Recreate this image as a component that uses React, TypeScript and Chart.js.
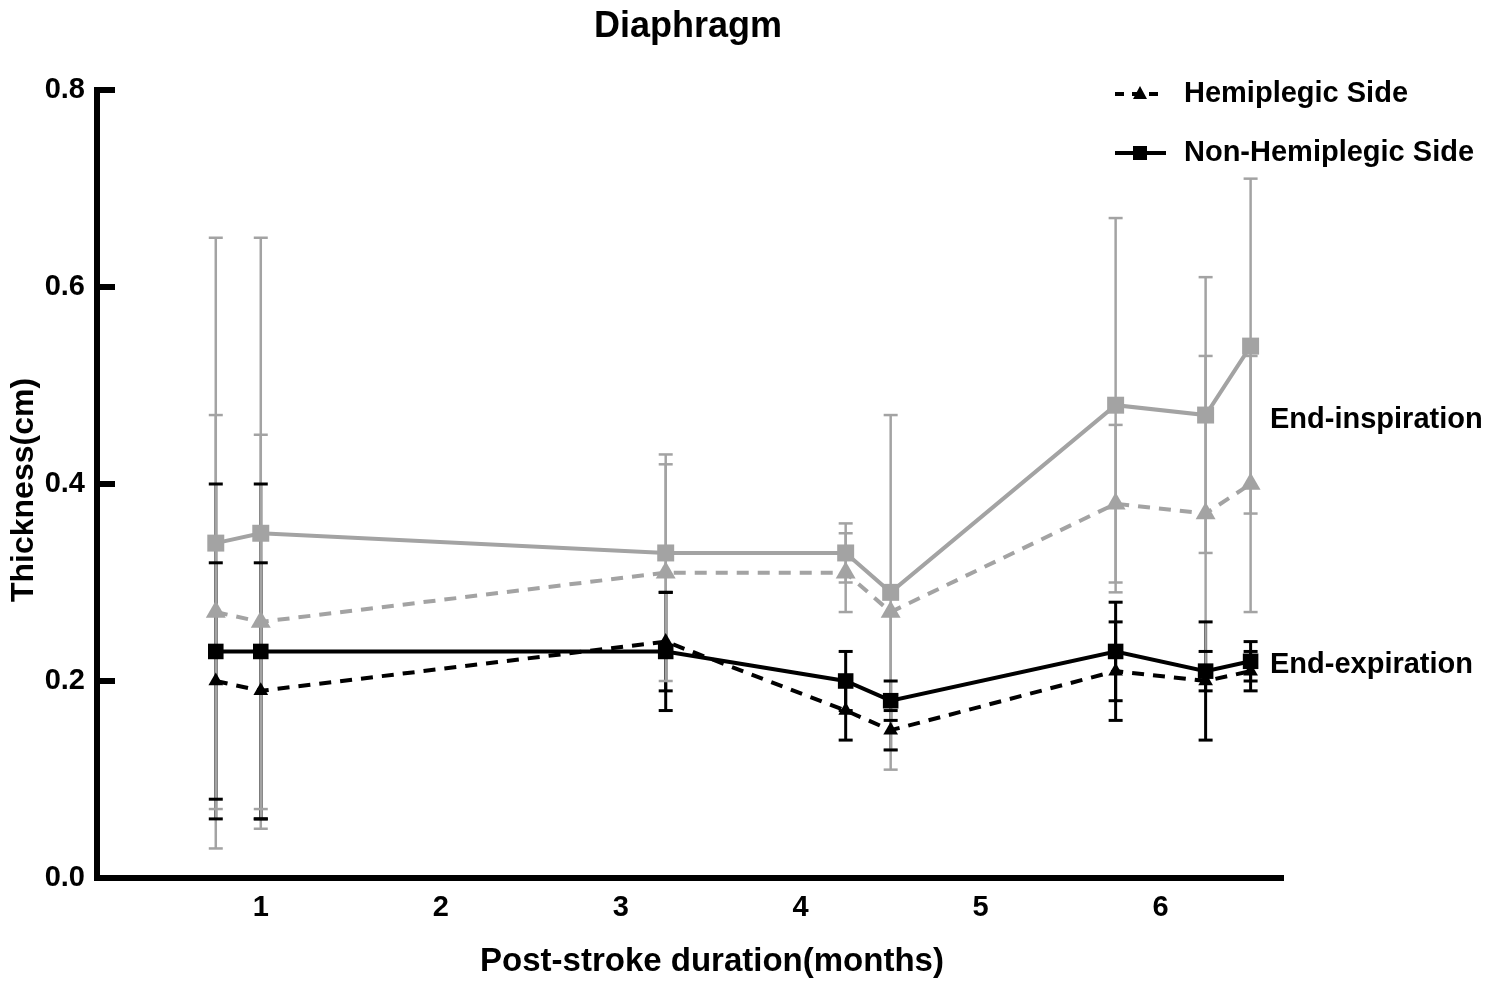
import React, { useEffect, useRef } from "react";
import { Chart, registerables } from "chart.js";

Chart.register(...registerables);

// post-stroke duration (months) of each measurement
const months = [0.75, 1, 3.25, 4.25, 4.5, 5.75, 6.25, 6.5];
const xTickValues = [1, 2, 3, 4, 5, 6];
const yTickValues = [0, 0.2, 0.4, 0.6, 0.8];

// end-inspiration, non-hemiplegic side (grey solid, squares)
const inspNonHemi = [0.34, 0.35, 0.33, 0.33, 0.29, 0.48, 0.47, 0.54];
const inspNonHemiLo = [0.03, 0.05, 0.23, 0.3, 0.11, 0.29, 0.33, 0.37];
const inspNonHemiHi = [0.65, 0.65, 0.43, 0.36, 0.47, 0.67, 0.61, 0.71];

// end-inspiration, hemiplegic side (grey dashed, triangles)
const inspHemi = [0.27, 0.26, 0.31, 0.31, 0.27, 0.38, 0.37, 0.4];
const inspHemiLo = [0.07, 0.07, 0.2, 0.27, 0.13, 0.3, 0.21, 0.27];
const inspHemiHi = [0.47, 0.45, 0.42, 0.35, null, 0.46, 0.53, 0.53];

// end-expiration, non-hemiplegic side (black solid, squares)
const expNonHemi = [0.23, 0.23, 0.23, 0.2, 0.18, 0.23, 0.21, 0.22];
const expNonHemiLo = [0.06, 0.06, 0.17, 0.17, 0.16, 0.18, 0.19, 0.2];
const expNonHemiHi = [0.4, 0.4, 0.29, 0.23, 0.2, 0.28, 0.23, 0.24];

// end-expiration, hemiplegic side (black dashed, triangles)
const expHemi = [0.2, 0.19, 0.24, 0.17, 0.15, 0.21, 0.2, 0.21];
const expHemiLo = [0.08, 0.06, 0.19, 0.14, 0.13, 0.16, 0.14, 0.19];
const expHemiHi = [0.32, 0.32, 0.29, 0.2, 0.17, 0.26, 0.26, 0.23];

const GREY = "#a3a3a3";
const BLACK = "#000000";
const FONT = '"Liberation Sans", Arial, sans-serif';

const toPoints = (vals: number[]) => months.map((m, i) => ({ x: m, y: vals[i] }));

// black bars first; the grey stems run over them, as in the original
const errorSets = [
  { mean: expNonHemi, lo: expNonHemiLo, hi: expNonHemiHi, color: BLACK, width: 3 },
  { mean: expHemi, lo: expHemiLo, hi: expHemiHi, color: BLACK, width: 3 },
  { mean: inspNonHemi, lo: inspNonHemiLo, hi: inspNonHemiHi, color: GREY, width: 2.5 },
  { mean: inspHemi, lo: inspHemiLo, hi: inspHemiHi, color: GREY, width: 2.5 },
];

const overlayPlugin = {
  id: "overlay",
  beforeDatasetsDraw(chart: any) {
    const { ctx, scales } = chart;
    const x = scales.x;
    const y = scales.y;
    ctx.save();
    ctx.setLineDash([]);
    // stems
    errorSets.forEach((set) => {
      ctx.strokeStyle = set.color;
      ctx.lineWidth = set.width;
      months.forEach((m, i) => {
        const px = x.getPixelForValue(m);
        const pm = y.getPixelForValue(set.mean[i]);
        [set.lo[i], set.hi[i]].forEach((v) => {
          if (v === null || v === undefined) return;
          ctx.beginPath();
          ctx.moveTo(px, pm);
          ctx.lineTo(px, y.getPixelForValue(v));
          ctx.stroke();
        });
      });
    });
    // caps on top
    [...errorSets].reverse().forEach((set) => {
      ctx.strokeStyle = set.color;
      ctx.lineWidth = set.width;
      months.forEach((m, i) => {
        const px = x.getPixelForValue(m);
        [set.lo[i], set.hi[i]].forEach((v) => {
          if (v === null || v === undefined) return;
          const pv = y.getPixelForValue(v);
          ctx.beginPath();
          ctx.moveTo(px - 7, pv);
          ctx.lineTo(px + 7, pv);
          ctx.stroke();
        });
      });
    });
    ctx.restore();
  },
  afterDraw(chart: any) {
    const { ctx, chartArea, scales } = chart;
    const y = scales.y;
    ctx.save();

    // y ticks point into the plot
    ctx.strokeStyle = BLACK;
    ctx.lineWidth = 6;
    ctx.setLineDash([]);
    yTickValues.forEach((v) => {
      const py = y.getPixelForValue(v);
      ctx.beginPath();
      ctx.moveTo(chartArea.left, py);
      ctx.lineTo(chartArea.left + 18, py);
      ctx.stroke();
    });

    ctx.fillStyle = BLACK;
    ctx.textBaseline = "middle";

    // title
    ctx.textAlign = "center";
    ctx.font = `bold 36px ${FONT}`;
    ctx.fillText("Diaphragm", 688, 27);

    // x axis title
    ctx.font = `bold 33px ${FONT}`;
    ctx.fillText("Post-stroke duration(months)", 712, 962);

    // y axis title
    ctx.font = `bold 32px ${FONT}`;
    ctx.save();
    ctx.translate(24, 490);
    ctx.rotate(-Math.PI / 2);
    ctx.fillText("Thickness(cm)", 0, 0);
    ctx.restore();

    // legend
    ctx.textAlign = "left";
    ctx.font = `bold 29px ${FONT}`;
    ctx.fillText("Hemiplegic Side", 1184, 94);
    ctx.fillText("Non-Hemiplegic Side", 1184, 153);

    ctx.lineWidth = 4;
    ctx.setLineDash([9, 8]);
    ctx.beginPath();
    ctx.moveTo(1115, 94);
    ctx.lineTo(1166, 94);
    ctx.stroke();
    ctx.setLineDash([]);
    ctx.beginPath();
    ctx.moveTo(1140, 86);
    ctx.lineTo(1147, 99);
    ctx.lineTo(1133, 99);
    ctx.closePath();
    ctx.fill();

    ctx.beginPath();
    ctx.moveTo(1115, 153);
    ctx.lineTo(1166, 153);
    ctx.stroke();
    ctx.fillRect(1133, 146, 14, 14);

    // phase labels
    ctx.fillText("End-inspiration", 1270, 420);
    ctx.fillText("End-expiration", 1270, 665);

    ctx.restore();
  },
};

const App: React.FC = () => {
  const chartRef = useRef<HTMLCanvasElement | null>(null);
  const chartInstance = useRef<Chart | null>(null);

  useEffect(() => {
    document.body.style.margin = "0";
    if (!chartRef.current) return;
    const ctx = chartRef.current.getContext("2d");
    if (!ctx) return;

    chartInstance.current = new Chart(ctx, {
      type: "line",
      data: {
        datasets: [
          {
            label: "End-expiration Non-Hemiplegic Side",
            data: toPoints(expNonHemi),
            borderColor: BLACK,
            backgroundColor: BLACK,
            borderWidth: 4,
            pointStyle: "rect",
            pointRadius: 11,
            pointBorderWidth: 0,
          },
          {
            label: "End-expiration Hemiplegic Side",
            data: toPoints(expHemi),
            borderColor: BLACK,
            backgroundColor: BLACK,
            borderWidth: 4,
            borderDash: [12, 9],
            pointStyle: "triangle",
            pointRadius: 8.5,
            pointBorderWidth: 0,
          },
          {
            label: "End-inspiration Non-Hemiplegic Side",
            data: toPoints(inspNonHemi),
            borderColor: GREY,
            backgroundColor: GREY,
            borderWidth: 4,
            pointStyle: "rect",
            pointRadius: 12,
            pointBorderWidth: 0,
          },
          {
            label: "End-inspiration Hemiplegic Side",
            data: toPoints(inspHemi),
            borderColor: GREY,
            backgroundColor: GREY,
            borderWidth: 4,
            borderDash: [12, 9],
            pointStyle: "triangle",
            pointRadius: 11.5,
            pointBorderWidth: 0,
          },
        ],
      },
      options: {
        animation: false,
        responsive: false,
        devicePixelRatio: 1,
        layout: { padding: { top: 90, right: 204, left: 0, bottom: 0 } },
        plugins: {
          legend: { display: false },
          tooltip: { enabled: false },
          title: { display: false },
        },
        scales: {
          x: {
            type: "linear",
            min: 0.09,
            max: 6.68,
            grid: { display: false },
            border: { display: true, width: 6, color: BLACK },
            afterBuildTicks: (scale: any) => {
              scale.ticks = xTickValues.map((v) => ({ value: v }));
            },
            afterFit: (scale: any) => {
              scale.height = 987 - 878;
            },
            ticks: {
              color: BLACK,
              padding: 5,
              maxRotation: 0,
              font: { family: FONT, size: 29, weight: "bold" },
            },
          },
          y: {
            type: "linear",
            min: 0,
            max: 0.8,
            grid: { display: false },
            border: { display: true, width: 6, color: BLACK },
            afterBuildTicks: (scale: any) => {
              scale.ticks = yTickValues.map((v) => ({ value: v }));
            },
            afterFit: (scale: any) => {
              scale.width = 97;
            },
            ticks: {
              color: BLACK,
              padding: 4,
              font: { family: FONT, size: 29, weight: "bold" },
              callback: (v: any) => Number(v).toFixed(1),
            },
          },
        },
      },
      plugins: [overlayPlugin],
    } as any);

    return () => {
      if (chartInstance.current) {
        chartInstance.current.destroy();
        chartInstance.current = null;
      }
    };
  }, []);

  return (
    <div style={{ width: 1487, height: 987, background: "#fff" }}>
      <canvas ref={chartRef} width={1487} height={987} />
    </div>
  );
};

export default App;
